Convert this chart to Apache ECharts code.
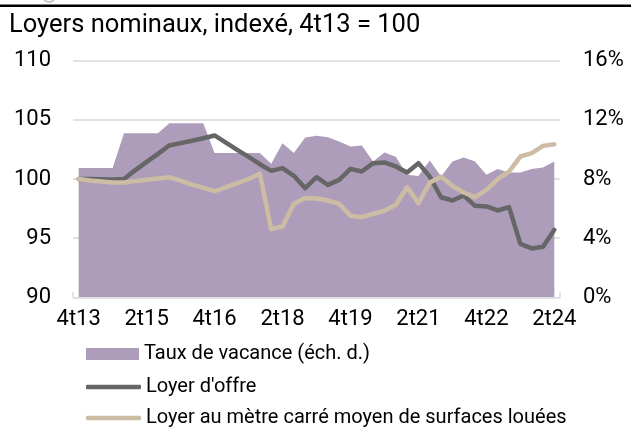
<!DOCTYPE html>
<html lang="fr">
<head>
    <meta charset="UTF-8">
    <title>Loyers nominaux</title>
    <script src="https://cdn.jsdelivr.net/npm/echarts@6/dist/echarts.min.js"></script>
    <style>
        html, body { margin: 0; padding: 0; background: #fff; }
        #chart { width: 631px; height: 428px; }
    </style>
</head>
<body>
    <div id="chart"></div>

    <script>
        // trimestres 4t13 .. 2t24
        const categories = [
            '4t13',
            '1t14', '2t14', '3t14', '4t14',
            '1t15', '2t15', '3t15', '4t15',
            '1t16', '2t16', '3t16', '4t16',
            '1t17', '2t17', '3t17', '4t17',
            '1t18', '2t18', '3t18', '4t18',
            '1t19', '2t19', '3t19', '4t19',
            '1t20', '2t20', '3t20', '4t20',
            '1t21', '2t21', '3t21', '4t21',
            '1t22', '2t22', '3t22', '4t22',
            '1t23', '2t23', '3t23', '4t23',
            '1t24', '2t24'
        ];

        // taux de vacance, en % (échelle de droite)
        const vacancyRate = [
            8.75, 8.75, 8.75, 8.75, 11.1, 11.1, 11.1, 11.1, 11.77, 11.77,
            11.77, 11.77, 9.75, 9.75, 9.75, 9.75, 9.75, 9.03, 10.42, 9.75,
            10.8, 10.92, 10.83, 10.54, 10.2, 10.27, 9.18, 9.8, 9.5, 8.28,
            8.2, 9.25, 8.17, 9.18, 9.45, 9.18, 8.28, 8.67, 8.44, 8.44,
            8.67, 8.78, 9.18
        ];

        // loyer d'offre, indexé 4t13 = 100
        const offerRent = [
            100, 100, 99.97, 99.95, 100, 100.75, 101.45, 102.13, 102.83, 103.03,
            103.23, 103.45, 103.68, 103.08, 102.46, 101.87, 101.25, 100.69, 100.92, 100.27,
            99.23, 100.15, 99.5, 99.93, 100.86, 100.63, 101.34, 101.4, 101.06, 100.55,
            101.34, 100.2, 98.46, 98.18, 98.6, 97.73, 97.68, 97.34, 97.62, 94.52,
            94.13, 94.27, 95.7
        ];

        // loyer au m2 moyen de surfaces louées, indexé 4t13 = 100
        const leasedRent = [
            100, 99.87, 99.79, 99.7, 99.7, 99.82, 99.93, 100.04, 100.15, 99.87,
            99.53, 99.25, 98.97, 99.3, 99.65, 100, 100.44, 95.76, 95.99, 97.9,
            98.4, 98.35, 98.18, 97.9, 96.89, 96.77, 97.06, 97.31, 97.82, 99.31,
            97.96, 99.7, 100.2, 99.42, 98.86, 98.46, 99.08, 99.99, 100.63, 101.9,
            102.18, 102.8, 102.94
        ];

        const leftTicks = [90, 110, 5];
        const rightTicks = [0, 16, 4];

        const seriesNames = [
            'Taux de vacance (éch. d.)',
            "Loyer d'offre",
            'Loyer au mètre carré moyen de surfaces louées'
        ];
        const colors = ['#ae9dba', '#666666', '#cdbca4'];

        const FONT = 'Roboto';
        const chart = echarts.init(document.getElementById('chart'), null, { renderer: 'canvas' });

        // one legend per row, so nothing wraps into columns
        function legendRow(name, top, icon, w, h) {
            return {
                orient: 'vertical',
                left: 86,
                top: top,
                padding: 0,
                itemWidth: w,
                itemHeight: h,
                icon: icon,
                textStyle: { fontFamily: FONT, fontSize: 20, lineHeight: 20, color: '#000' },
                data: [name]
            };
        }

        chart.setOption({
            animation: false,
            backgroundColor: '#fff',
            textStyle: { fontFamily: FONT, color: '#000' },
            title: {
                text: 'Loyers nominaux, indexé, 4t13 = 100',
                left: 9,
                top: 13,
                padding: 0,
                textStyle: { fontFamily: FONT, fontSize: 25.5, fontWeight: 'normal', color: '#000' }
            },
            graphic: [
                { type: 'rect', shape: { x: 0, y: 4.5, width: 631, height: 2.6 }, style: { fill: '#000' } },
                { type: 'circle', shape: { cx: 49, cy: -4, r: 6 }, style: { fill: 'none', stroke: '#c8c8c8', lineWidth: 2 } }
            ],
            grid: { left: 73, right: 71, top: 60.7, bottom: 130.7, containLabel: false },
            legend: [
                legendRow(seriesNames[0], 344, 'rect', 53, 12),
                legendRow(seriesNames[1], 377, 'roundRect', 55, 4.5),
                legendRow(seriesNames[2], 408, 'roundRect', 55, 4.5)
            ],
            xAxis: {
                type: 'category',
                data: categories,
                boundaryGap: true,
                axisLine: { lineStyle: { color: '#d9d9d9', width: 1.5 } },
                axisTick: { show: true, inside: true, length: 5, interval: 5, lineStyle: { color: '#d9d9d9', width: 1.5 } },
                axisLabel: { interval: 5, margin: 11, fontSize: 22, color: '#000', fontFamily: FONT },
                splitLine: { show: false }
            },
            yAxis: [
                {
                    type: 'value',
                    min: leftTicks[0],
                    max: leftTicks[1],
                    interval: leftTicks[2],
                    position: 'left',
                    axisLine: { show: false },
                    axisTick: { show: false },
                    axisLabel: { margin: 22, fontSize: 22, color: '#000', fontFamily: FONT },
                    splitLine: {
                        show: true,
                        lineStyle: { color: '#d9d9d9', width: 1.5 },
                        showMinLine: false
                    }
                },
                {
                    type: 'value',
                    min: rightTicks[0],
                    max: rightTicks[1],
                    interval: rightTicks[2],
                    position: 'right',
                    axisLine: { show: false },
                    axisTick: { show: false },
                    axisLabel: { margin: 23, fontSize: 22, color: '#000', fontFamily: FONT, formatter: '{value}%' },
                    splitLine: { show: false }
                }
            ],
            series: [
                {
                    name: seriesNames[0],
                    type: 'line',
                    yAxisIndex: 1,
                    data: vacancyRate,
                    symbol: 'none',
                    lineStyle: { width: 0, color: colors[0] },
                    itemStyle: { color: colors[0] },
                    areaStyle: { color: colors[0], opacity: 1 },
                    z: 1
                },
                {
                    name: seriesNames[1],
                    type: 'line',
                    yAxisIndex: 0,
                    data: offerRent,
                    symbol: 'none',
                    lineStyle: { width: 4.5, color: colors[1], cap: 'round', join: 'round' },
                    itemStyle: { color: colors[1] },
                    z: 3
                },
                {
                    name: seriesNames[2],
                    type: 'line',
                    yAxisIndex: 0,
                    data: leasedRent,
                    symbol: 'none',
                    lineStyle: { width: 4.5, color: colors[2], cap: 'round', join: 'round' },
                    itemStyle: { color: colors[2] },
                    z: 4
                }
            ]
        });
    </script>
</body>
</html>
